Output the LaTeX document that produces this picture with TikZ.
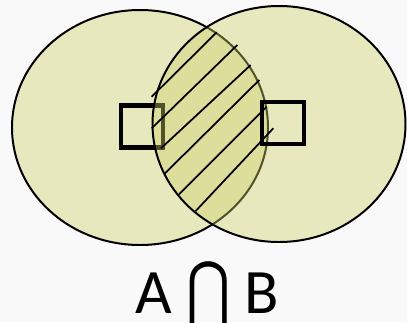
\documentclass[tikz,border=0pt]{standalone}
\usepackage{fontspec}
\setmainfont{Carlito}
\newfontfamily\symfont{DejaVu Sans}
\usepackage{tikz}
\usetikzlibrary{positioning}

\definecolor{setcol}{RGB}{207,207,104}
\definecolor{bgcol}{RGB}{249,249,249}

\tikzset{
  setfill/.style={fill=setcol, fill opacity=0.4, draw=black, line width=1.7pt},
  box/.style={draw=black, line width=3.6pt, minimum size=1.26cm, inner sep=0pt},
  hatch/.style={draw=black, line width=1.5pt},
  bigtext/.style={font=\fontsize{54}{60}\selectfont, inner sep=0pt, anchor=base}
}

\begin{document}
\begin{tikzpicture}[x=0.03cm, y=-0.03cm]
    % canvas
    \fill[bgcol] (0,0) rectangle (407,322);
    \useasboundingbox (0,0) rectangle (407,322);

    % set A
    \coordinate (cA) at (140,127.5);
    \path[setfill] (cA) ellipse (128 and 117.5);
    \node[box] (boxA) at (142,126.5) {};

    % set B
    \coordinate (cB) at (279,124);
    \path[setfill] (cB) ellipse (126.5 and 118);
    \node[box] (boxB) at (283,123) {};

    % hatching of the overlap
    \foreach \xa/\ya/\xb/\yb in {151.7/96.7/216.7/32.3, 151.7/128.3/237.3/45,
        161/148.3/250.7/65, 165/173.3/259.3/80,
        179/194.3/266.7/106.7, 195.7/211/273.3/128.3}
      \draw[hatch] (\xa,\ya) -- (\xb,\yb);

    % label
    \node[bigtext] (labA) at (154,313) {A};
    \node[font=\symfont\fontsize{42}{46}\selectfont, inner sep=0pt] (labCap) at (209,293) {\scalebox{1.1}[1.38]{⋂}};
    \node[bigtext] (labB) at (262,313) {B};
  \end{tikzpicture}
\end{document}
